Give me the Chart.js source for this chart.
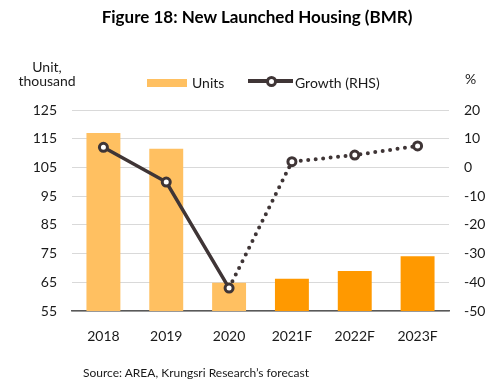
<!DOCTYPE html>
<html>
<head>
<meta charset="utf-8">
<script src="https://cdn.jsdelivr.net/npm/chart.js@4"></script>
<style>
  body { margin: 0; background: #fff; }
  #wrap { position: relative; width: 494px; height: 389px; font-family: Lato, "Open Sans", sans-serif; color: #1a1a1a; }
  #wrap canvas { position: absolute; left: 0; top: 0; }
  .txt { position: absolute; white-space: nowrap; }
  #title { left: 0; width: 514px; top: 6px; text-align: center; font-weight: bold; font-size: 17px; color: #000; }
  #unitL { left: 18px; top: 60px; width: 58px; text-align: center; font-size: 14px; line-height: 14px; }
  #unitR { left: 465px; top: 70px; font-size: 14px; }
  #source { left: 83px; top: 365px; font-size: 12px; }
  .leg { position: absolute; top: 74px; font-size: 14px; }
  #legBar { left: 147px; top: 79px; width: 40px; height: 8px; background: #FFC061; position: absolute; }
  #legLine { left: 248px; top: 79px; width: 45px; height: 4px; background: #3F3536; position: absolute; }
  #legDot { left: 266px; top: 76px; width: 5px; height: 5px; border: 3px solid #3F3536; border-radius: 50%; background: #fff; position: absolute; }
</style>
</head>
<body>
<div id="wrap">
  <canvas id="myChart" width="494" height="389"></canvas>
  <div id="title" class="txt">Figure 18: New Launched Housing (BMR)</div>
  <div id="unitL" class="txt">Unit,<br>thousand</div>
  <div id="unitR" class="txt">%</div>
  <div id="legBar"></div>
  <div class="leg txt" style="left:192px">Units</div>
  <div id="legLine"></div>
  <div id="legDot"></div>
  <div class="leg txt" style="left:295px">Growth (RHS)</div>
  <div id="source" class="txt">Source: AREA, Krungsri Research’s forecast</div>
</div>
<script>
const years = ['2018', '2019', '2020', '2021F', '2022F', '2023F'];
const units = [117, 111.5, 64.8, 66.2, 68.9, 74.1];
const growth = [7, -5.1, -42, 2, 4.3, 7.5];
const barColors = ['#FFC061', '#FFC061', '#FFC061', '#FF9900', '#FF9900', '#FF9900'];
const lineColor = '#3F3536';
const tickFont = { family: 'Lato, "Open Sans", sans-serif', size: 14 };

const ctx = document.getElementById('myChart').getContext('2d');
new Chart(ctx, {
  type: 'bar',
  data: {
    labels: years,
    datasets: [{
      type: 'line',
      label: 'Growth (RHS)',
      data: growth,
      yAxisID: 'y2',
      order: 0,
      borderColor: lineColor,
      borderWidth: 3.5,
      borderCapStyle: 'round',
      pointRadius: 4,
      pointBorderWidth: 3,
      pointBackgroundColor: '#fff',
      pointBorderColor: lineColor,
      segment: {
        borderDash: c => c.p0DataIndex >= 2 ? [0, 7.5] : undefined,
        borderWidth: c => c.p0DataIndex >= 2 ? 4 : 3.5
      },
      tension: 0
    }, {
      label: 'Units',
      data: units,
      yAxisID: 'y',
      order: 1,
      backgroundColor: barColors,
      categoryPercentage: 1,
      barPercentage: 0.54
    }]
  },
  options: {
    responsive: false,
    animation: false,
    devicePixelRatio: 1,
    layout: { padding: { top: 110, bottom: 38, left: 0, right: 0 } },
    plugins: {
      legend: { display: false },
      tooltip: { enabled: false }
    },
    scales: {
      x: {
        grid: { display: false },
        border: { color: '#595959', width: 1.5 },
        ticks: { color: '#1a1a1a', font: tickFont, padding: 9, maxRotation: 0 },
        afterFit: s => { s.height = 40; }
      },
      y: {
        position: 'left',
        min: 55, max: 125,
        grid: { color: '#d9d9d9', drawTicks: false },
        border: { display: false },
        ticks: { stepSize: 10, color: '#1a1a1a', font: tickFont, padding: 15 },
        afterFit: s => { s.width = 72; }
      },
      y2: {
        position: 'right',
        min: -50, max: 20,
        grid: { display: false, drawTicks: false },
        border: { display: false },
        ticks: { stepSize: 10, color: '#1a1a1a', font: tickFont, padding: 15 },
        afterFit: s => { s.width = 45; }
      }
    }
  }
});
</script>
</body>
</html>
